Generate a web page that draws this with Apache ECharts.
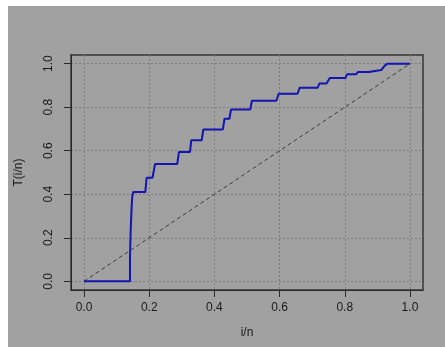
<!DOCTYPE html>
<html>
<head>
<meta charset="utf-8">
<script src="https://cdn.jsdelivr.net/npm/echarts@6/dist/echarts.min.js"></script>
<style>
  html, body { margin: 0; padding: 0; background: #ffffff; }
  #chart { position: absolute; left: 8px; top: 6px; width: 437px; height: 341px; }
</style>
</head>
<body>
<div id="chart"></div>
<script>
// Scaled total-time-on-test curve: i/n against T(i/n)
const ttX = [0, 0.141, 0.141, 0.143, 0.146, 0.148, 0.151, 0.188, 0.192, 0.210, 0.218,
  0.286, 0.291, 0.325, 0.329, 0.361, 0.366, 0.426, 0.431, 0.446, 0.451,
  0.510, 0.515, 0.590, 0.597, 0.655, 0.662, 0.717, 0.722, 0.744, 0.754,
  0.802, 0.807, 0.835, 0.840, 0.874, 0.877, 0.912, 0.922, 0.930, 1.0];
const ttY = [0, 0, 0.11, 0.23, 0.34, 0.39, 0.41, 0.41, 0.476, 0.476, 0.539,
  0.539, 0.594, 0.594, 0.648, 0.648, 0.698, 0.698, 0.747, 0.747, 0.790,
  0.790, 0.830, 0.830, 0.862, 0.862, 0.890, 0.890, 0.909, 0.909, 0.934,
  0.934, 0.951, 0.951, 0.962, 0.962, 0.971, 0.971, 0.990, 1.0, 1.0];
// Reference diagonal (uniform case)
const diagX = [0, 1];
const diagY = [0, 1];
// Tick positions and labels
const tickVals = [0, 0.2, 0.4, 0.6, 0.8, 1.0];
const tickLabels = ['0.0', '0.2', '0.4', '0.6', '0.8', '1.0'];

const font = 'Liberation Sans, Arial, sans-serif';
const zip = (a, b) => a.map((v, i) => [v, b[i]]);
const fmt = v => tickLabels[tickVals.findIndex(t => Math.abs(t - v) < 1e-9)] ?? '';

function axis(extra) {
  return Object.assign({
    type: 'value',
    min: -0.04,
    max: 1.04,
    nameLocation: 'middle',
    nameTextStyle: { color: '#1a1a1a', fontSize: 12, fontFamily: font },
    axisLine: { show: true, onZero: false, lineStyle: { color: '#2a2a2a', width: 1 } },
    axisTick: { show: true, inside: false, length: 7, customValues: tickVals,
                lineStyle: { color: '#2a2a2a', width: 1 } },
    splitLine: { show: true, lineStyle: { color: '#7c7c7c', width: 1, type: [2, 2] } }
  }, extra);
}

const chart = echarts.init(document.getElementById('chart'), null, { renderer: 'canvas' });
chart.setOption({
  animation: false,
  backgroundColor: '#a1a1a1',
  grid: { left: 63, top: 49, right: 22, bottom: 57, show: true,
          containLabel: false, outerBoundsMode: 'none',
          borderColor: '#505050', borderWidth: 2, backgroundColor: 'transparent' },
  xAxis: axis({
    name: 'i/n',
    nameGap: 37,
    axisLabel: { customValues: tickVals, formatter: fmt, margin: 12,
                 color: '#1a1a1a', fontSize: 12, fontFamily: font }
  }),
  yAxis: axis({
    name: 'T(i/n)',
    nameGap: 46,
    axisLabel: { customValues: tickVals, formatter: fmt, rotate: 90, margin: 16,
                 color: '#1a1a1a', fontSize: 12, fontFamily: font }
  }),
  series: [
    {
      type: 'line',
      data: zip(diagX, diagY),
      showSymbol: false,
      silent: true,
      lineStyle: { color: '#3c3c3c', width: 1, type: [4, 3] },
      z: 2
    },
    {
      type: 'line',
      data: zip(ttX, ttY),
      showSymbol: false,
      silent: true,
      lineStyle: { color: '#1414b0', width: 2 },
      z: 3
    }
  ]
});
</script>
</body>
</html>
